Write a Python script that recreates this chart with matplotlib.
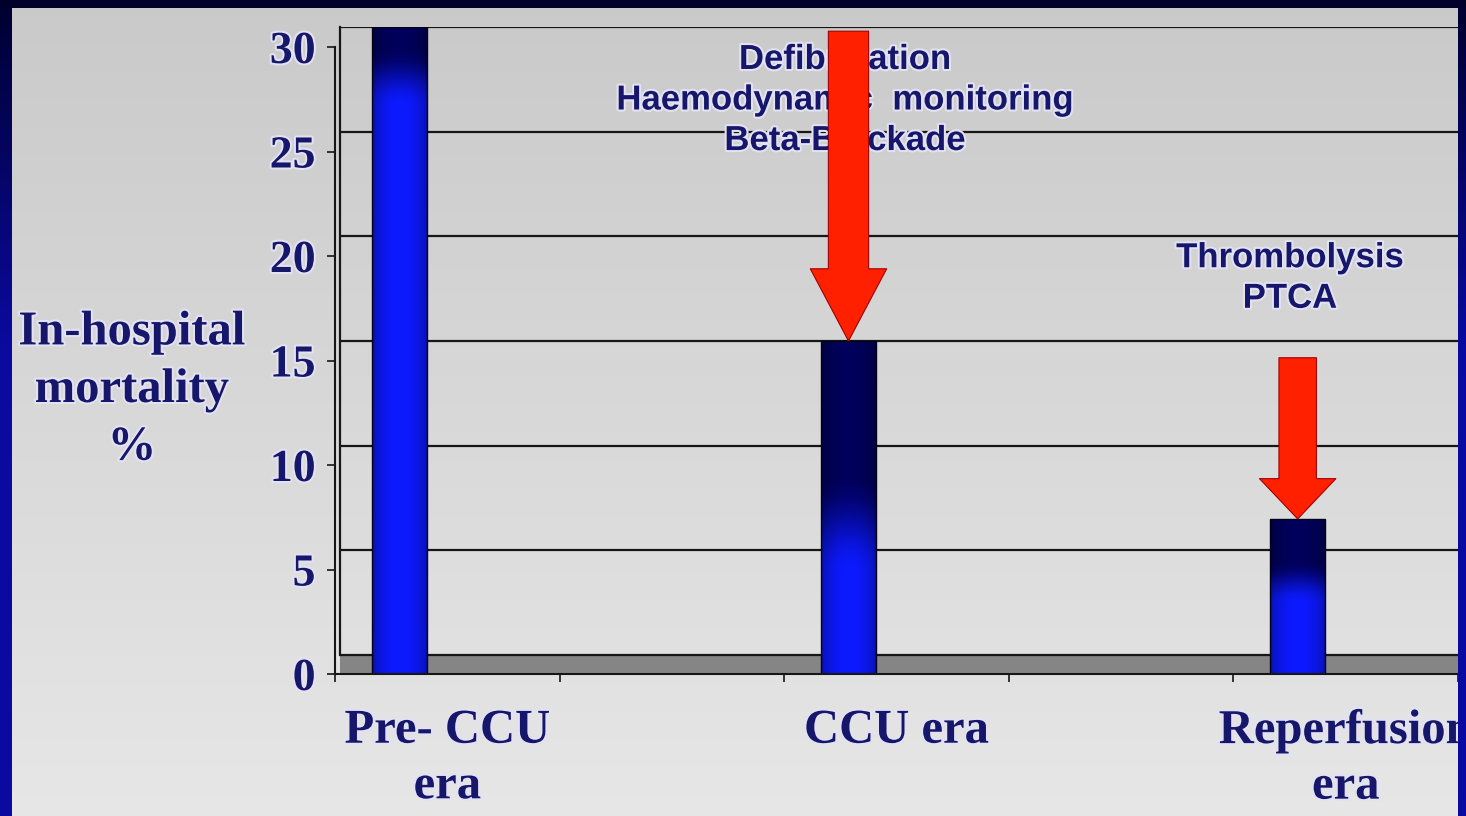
import numpy as np
import matplotlib
matplotlib.use("Agg")
import matplotlib.pyplot as plt
from matplotlib import patheffects as pe

W, H, DPI = 1466, 816, 100

# data
eras = ["Pre- CCU\nera", "CCU era", "Reperfusion\nera"]
mortality = [30, 15, 6.5]
y_ticks = [0, 5, 10, 15, 20, 25, 30]
y_label = "In-hospital\nmortality\n%"
notes = ["Defibrillation\nHaemodynamic  monitoring\nBeta-Blockade",
         "Thrombolysis\nPTCA"]
arrow_from = [29.8, 14.2]  # where the red arrows start, mortality scale

NAVY = "#16166a"
RED = "#ff2000"
FLOOR = "#858585"
LINE = "#161616"
DEPTH = 0.908   # depth of the 3-d floor in value units
SHIFT = -0.236  # bars sit a bit left of the slot centre
BAR_W = 0.245
GRAD = [(0.03, 0.12), (0.40, 0.70), (0.27, 0.55)]  # dark->blue stops per bar
ARROW_STYLES = ["simple,head_length=52,head_width=55,tail_width=29",
                "simple,head_length=29,head_width=55,tail_width=27"]
NOTE_POS = [(845, 100), (1290, 278)]  # pixels
GLOW = [pe.withStroke(linewidth=3, foreground="#e2e2f2")]
SERIF = dict(family="Liberation Serif", weight="bold", color=NAVY)


def cylinder(t0, t1, n=240, m=60):
    u = np.linspace(0, 1, m)
    shade = 0.6 + 0.4 * np.sin(np.pi * u) ** 0.5
    v = np.linspace(0, 1, n)[:, None]
    k = np.clip((v - t0) / (t1 - t0), 0, 1)
    k = k * k * (3 - 2 * k)
    dark = np.array([0.0, 0.0, 0.36])
    light = np.array([0.05, 0.1, 1.0])
    base = dark * (1 - k[..., None]) + light * k[..., None]
    return np.clip(base * shade[None, :, None], 0, 1)


fig = plt.figure(figsize=(W / DPI, H / DPI), dpi=DPI)

# grey slide background
bg = fig.add_axes([0, 0, 1, 1], zorder=-5)
g = np.linspace(0.79, 0.905, H)[:, None] * np.ones((1, W))
bg.imshow(np.dstack([g, g, g]), aspect="auto", extent=(0, 1, 0, 1), origin="upper")
bg.axis("off")

# back wall: grid, floor, bars, arrows
ax = fig.add_axes([340 / W, (H - 674) / H, 1123 / W, 647 / H], zorder=0)
ax.patch.set_alpha(0)
for s in ax.spines.values():
    s.set_visible(False)
ax.set_yticks(y_ticks)
ax.set_xticks([])
ax.tick_params(left=False, labelleft=False)
ax.yaxis.grid(True, color=LINE, lw=1.6)
ax.axhspan(-DEPTH, 0, color=FLOOR, zorder=0.5)
ax.axvline(-0.5, ymin=DEPTH / (30 + DEPTH), color=LINE, lw=1.6, clip_on=False)

xs = np.arange(len(eras)) * 2 + SHIFT
bars = ax.bar(xs, np.array(mortality) + DEPTH, bottom=-DEPTH, width=BAR_W,
              color="none", edgecolor="#000018", lw=1, zorder=3)
for b, (t0, t1) in zip(bars, GRAD):
    x0, y0 = b.get_x(), b.get_y()
    im = ax.imshow(cylinder(t0, t1), extent=(x0, x0 + b.get_width(), y0, y0 + b.get_height()),
                   aspect="auto", origin="upper", zorder=2.8, interpolation="bilinear")
    im.set_clip_path(b)

for x, top, val, st in zip(xs[1:], arrow_from, mortality[1:], ARROW_STYLES):
    ax.annotate("", xy=(x, val), xytext=(x, top), zorder=6,
                arrowprops=dict(arrowstyle=st, fc=RED, ec="#a00000", lw=0.8,
                                shrinkA=0, shrinkB=0, mutation_scale=1))

for s, (nx, ny) in zip(notes, NOTE_POS):
    ax.text(nx / W, 1 - ny / H, s, transform=fig.transFigure, ha="center", va="center",
            multialignment="center", family="Liberation Sans", weight="bold",
            fontsize=25, color=NAVY, linespacing=1.29, zorder=4, path_effects=GLOW)
ax.set_xlim(-0.5, 4.5)
ax.set_ylim(-DEPTH, 30)

# front plane: axis lines, ticks, labels
fx = fig.add_axes([335 / W, (H - 674) / H, 1123 / W, 627 / H], zorder=1)
fx.patch.set_alpha(0)
fx.set_xlim(-0.5, 4.5)
fx.set_ylim(0, 30)
fx.spines[["top", "right"]].set_visible(False)
fx.spines[["left", "bottom"]].set_linewidth(1.5)
fx.spines[["left", "bottom"]].set_color(LINE)
fx.set_yticks(y_ticks)
fx.set_yticklabels([str(v) for v in y_ticks], fontsize=33, path_effects=GLOW, **SERIF)
slots = 2 * len(eras) - 1
fx.set_xticks(np.arange(slots + 1) - 0.5)
fx.set_xticklabels([])
fx.set_xticks(np.arange(len(eras)) * 2, minor=True)
fx.set_xticklabels(eras, minor=True, fontsize=35, linespacing=1.34, path_effects=GLOW, **SERIF)
fx.tick_params(axis="x", which="minor", length=0, pad=25)
fx.tick_params(axis="x", which="major", direction="out", length=6, width=1.2, color=LINE)
fx.tick_params(axis="y", direction="out", length=6, width=1.2, pad=8, color=LINE)

fig.text(132 / W, 1 - 390 / H, y_label, ha="center", va="center", multialignment="center",
         fontsize=35, linespacing=1.4, path_effects=GLOW, **SERIF)

# dark blue slide frame on top
frame = np.zeros((H, W, 4))
t = np.clip(np.arange(H) / 350, 0, 1)[:, None]
edge = np.array([0.0, 0.0, 0.19]) * (1 - t) + np.array([0.04, 0.04, 0.63]) * t
frame[:, :12, :3] = edge[:, None, :]
frame[:, W - 8:, :3] = edge[:, None, :]
frame[:, :12, 3] = 1
frame[:, W - 8:, 3] = 1
frame[:8, :, :3] = [0.0, 0.0, 0.17]
frame[:8, :, 3] = 1
fr = fig.add_axes([0, 0, 1, 1], zorder=10)
fr.imshow(frame, aspect="auto", extent=(0, 1, 0, 1), origin="upper")
fr.axis("off")

fig.savefig("out.png", dpi=DPI)
